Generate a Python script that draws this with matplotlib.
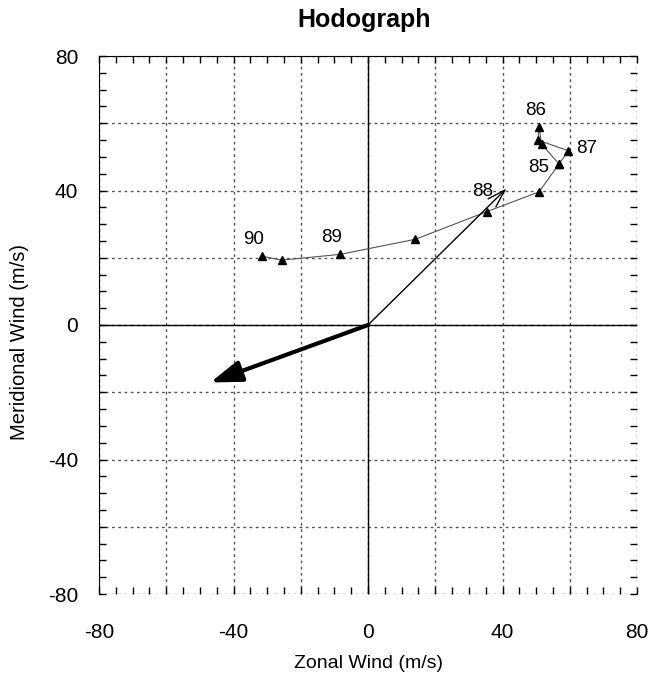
import matplotlib
matplotlib.use("Agg")
import matplotlib.pyplot as plt
from matplotlib.ticker import MultipleLocator, FuncFormatter
from matplotlib.patches import FancyArrowPatch

plt.rcParams['font.family'] = ['Liberation Sans', 'DejaVu Sans']

# hodograph trace (m/s)
u_trace = [-31.6, -25.7, -8.3, 14.1, 35.3, 50.9, 56.8, 59.6, 50.5, 50.9, 51.6, 56.8]
v_trace = [20.5, 19.3, 21.0, 25.5, 33.7, 39.6, 47.9, 51.8, 55.0, 58.8, 53.8, 47.9]

# labels
lab_text = ["90", "89", "88", "87", "86", "85"]
lab_u = [-34.1, -10.8, 34.1, 65.0, 50.0, 50.6]
lab_v = [25.5, 26.1, 39.6, 52.5, 63.9, 46.9]

# vectors
mean_vec = (41.2, 40.6)
motion_vec = (-46.9, -17.1)

fig = plt.figure(figsize=(6.49, 6.77), dpi=100)
ax = fig.add_axes([99/649, 1-594/677, 538/649, 538/677])
ax.set_xlim(-80, 80)
ax.set_ylim(-80, 80)

ax.grid(True, which='major', color='#555555', linestyle=(0, (2, 2.5)), lw=1)
ax.axhline(0, color='black', lw=1, zorder=2)
ax.axvline(0, color='black', lw=1, zorder=2)

ax.plot(u_trace, v_trace, color='#555555', lw=0.8, marker='^', ms=6,
        mfc='black', mec='black', zorder=3)
for t, x, y in zip(lab_text, lab_u, lab_v):
    ax.text(x, y, t, ha='center', va='center', fontsize=13.5, zorder=4)

a1 = FancyArrowPatch((0, 0), mean_vec, arrowstyle='->,head_length=1.3,head_width=0.4',
                     mutation_scale=10, lw=1, color='black', shrinkA=0, shrinkB=0, zorder=4)
ax.add_patch(a1)
a2 = FancyArrowPatch((0, 0), motion_vec, arrowstyle='-|>,head_length=1.9,head_width=0.65',
                     mutation_scale=10, lw=3, color='black', shrinkA=0, shrinkB=0, zorder=4)
ax.add_patch(a2)

ax.xaxis.set_major_locator(MultipleLocator(20))
ax.yaxis.set_major_locator(MultipleLocator(20))
ax.xaxis.set_minor_locator(MultipleLocator(5))
ax.yaxis.set_minor_locator(MultipleLocator(5))
fmt = FuncFormatter(lambda v, p: f"{int(round(v))}" if int(round(v)) % 40 == 0 else "")
ax.xaxis.set_major_formatter(fmt)
ax.yaxis.set_major_formatter(fmt)
ax.tick_params(which='both', direction='in', top=True, right=True, length=5, width=1,
               labelsize=15)
ax.tick_params(axis='x', pad=21)
ax.tick_params(axis='y', pad=15)

ax.spines['right'].set_visible(False)
ax.spines['bottom'].set_visible(False)

ax.set_xlabel("Zonal Wind (m/s)", fontsize=14)
ax.xaxis.label.set_va('center')
ax.xaxis.set_label_coords(0.5, (594-663)/538)
ax.set_ylabel("Meridional Wind (m/s)", fontsize=14.5)
ax.yaxis.label.set_va('center')
ax.yaxis.set_label_coords((20-99)/538, (594-342)/538)

fig.text(364/649, 1-20/677, "Hodograph", ha='center', va='center', fontsize=18,
         fontweight='bold')

fig.savefig("out.png", dpi=100)
